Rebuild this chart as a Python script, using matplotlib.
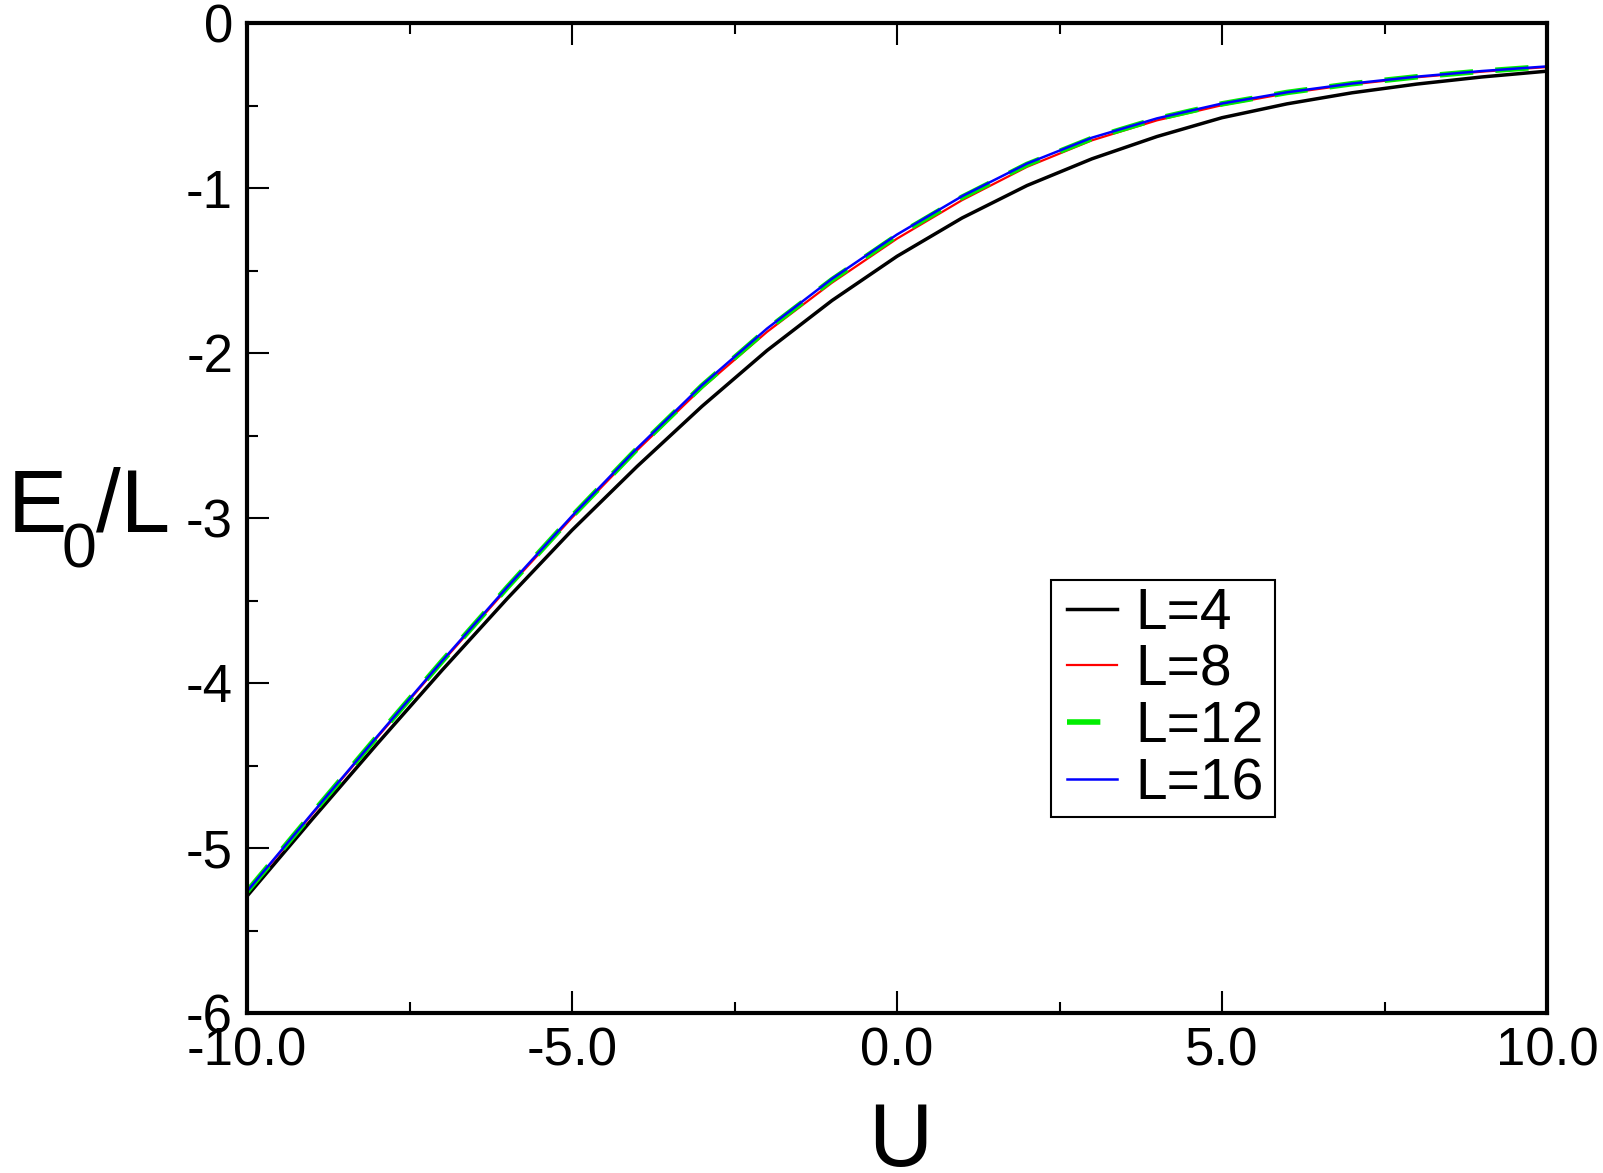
import matplotlib
matplotlib.use("Agg")
import matplotlib.pyplot as plt
from matplotlib.patches import Rectangle
from matplotlib.ticker import MultipleLocator, FormatStrFormatter

plt.rcParams['font.family'] = ['Liberation Sans', 'DejaVu Sans']
plt.rcParams['axes.unicode_minus'] = False

# Data
U = [-10, -9, -8, -7, -6, -5, -4, -3, -2, -1, 0, 1, 2, 3, 4, 5, 6, 7, 8, 9, 10]
E_L4 = [-5.292, -4.827, -4.370, -3.923, -3.490, -3.074, -2.688, -2.323, -1.985, -1.682,
        -1.414, -1.182, -0.985, -0.823, -0.688, -0.574, -0.490, -0.423, -0.370, -0.327, -0.292]
E_L8 = [-5.267, -4.796, -4.331, -3.874, -3.429, -2.998, -2.590, -2.211, -1.872, -1.574,
        -1.307, -1.074, -0.872, -0.711, -0.590, -0.498, -0.426, -0.372, -0.329, -0.295, -0.267]
E_L12 = [-5.264, -4.792, -4.326, -3.868, -3.422, -2.990, -2.581, -2.199, -1.857, -1.556,
         -1.288, -1.056, -0.857, -0.699, -0.580, -0.490, -0.421, -0.368, -0.326, -0.292, -0.264]
E_L16 = [-5.263, -4.791, -4.325, -3.867, -3.420, -2.988, -2.578, -2.195, -1.852, -1.550,
         -1.282, -1.050, -0.852, -0.695, -0.578, -0.488, -0.420, -0.367, -0.325, -0.291, -0.263]
labels = ["L=4", "L=8", "L=12", "L=16"]

W, H = 1603, 1173
fig = plt.figure(figsize=(W / 100, H / 100), dpi=100)
ax = fig.add_axes([247 / W, 1 - 1013 / H, (1547 - 247) / W, (1013 - 23) / H])

ax.plot(U, E_L4, color='black', lw=2.5, label=labels[0])
ax.plot(U, E_L8, color='red', lw=1.6, label=labels[1])
ax.plot(U, E_L12, color='#00ee00', lw=4.0, linestyle=(0, (6, 4)), label=labels[2])
ax.plot(U, E_L16, color='blue', lw=1.8, label=labels[3])

ax.set_xlim(-10, 10)
ax.set_ylim(-6, 0)
ax.xaxis.set_major_locator(MultipleLocator(5))
ax.xaxis.set_minor_locator(MultipleLocator(2.5))
ax.yaxis.set_major_locator(MultipleLocator(1))
ax.yaxis.set_minor_locator(MultipleLocator(0.5))
ax.xaxis.set_major_formatter(FormatStrFormatter('%.1f'))
ax.yaxis.set_major_formatter(FormatStrFormatter('%d'))

for s in ax.spines.values():
    s.set_linewidth(3.0)
ax.tick_params(which='both', direction='in', top=True, right=False, width=1.5,
               labelsize=38)
ax.tick_params(which='major', length=16, pad=10)
ax.tick_params(which='minor', length=8)

# y-axis label "E0/L" with a deep subscript, built from pieces
fig.text(8 / W, 1 - 532 / H, 'E', fontsize=64, ha='left', va='baseline')
fig.text(62 / W, 1 - 567 / H, '0', fontsize=45, ha='left', va='baseline')
fig.text(96 / W, 1 - 532 / H, '/L', fontsize=64, ha='left', va='baseline')
fig.text(900 / W, 1 - 1166 / H, 'U', fontsize=64, ha='center', va='baseline')

# legend frame (drawn separately so padding can differ vertically/horizontally)
frame = Rectangle((1051 / W, 1 - 817 / H), (1275 - 1051) / W, (817 - 580) / H,
                  transform=fig.transFigure, facecolor='white', edgecolor='black',
                  linewidth=1.5, zorder=4, clip_on=False)
ax.add_patch(frame)

leg = ax.legend(loc='lower left', bbox_to_anchor=(1051 / W, 1 - 827 / H),
                bbox_transform=fig.transFigure, borderaxespad=0,
                fontsize=41, handlelength=0.88, handletextpad=0.32,
                labelspacing=0.05, borderpad=0.28, frameon=False)
leg.set_zorder(5)

fig.savefig('out.png', dpi=100)
